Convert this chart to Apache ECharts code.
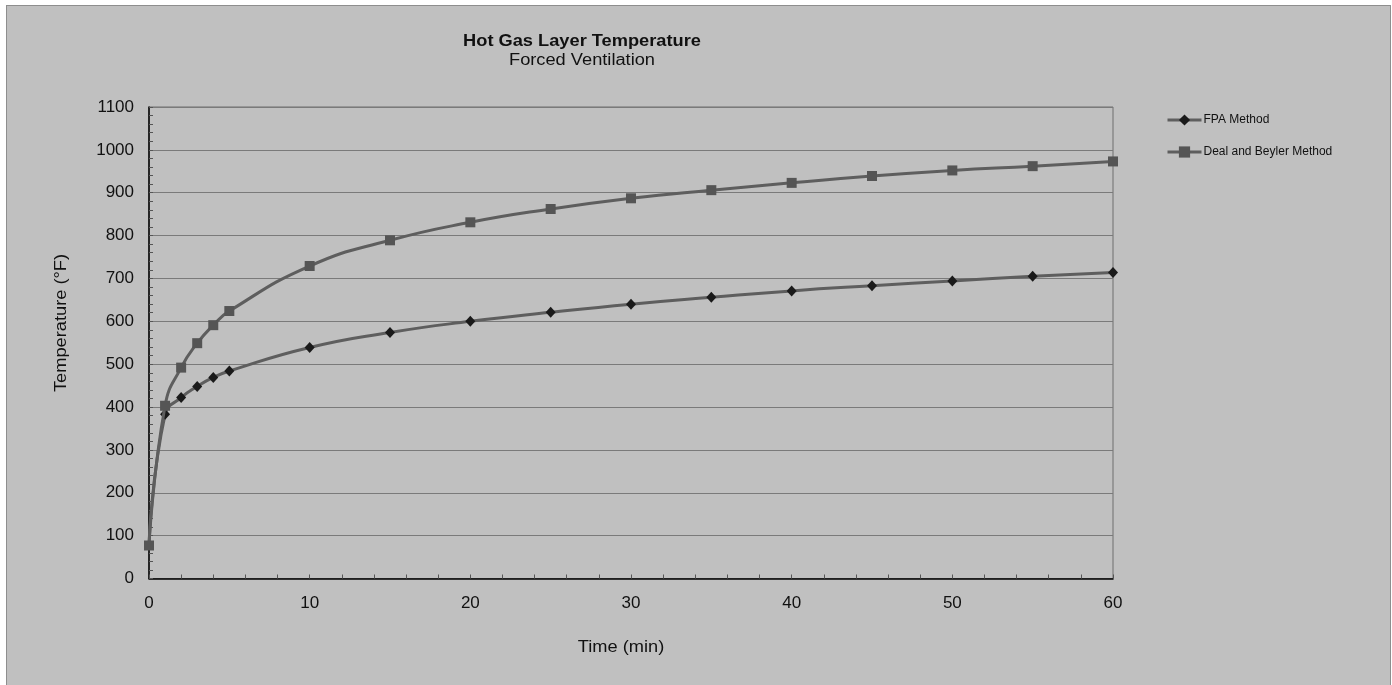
<!DOCTYPE html>
<html>
<head>
<meta charset="utf-8">
<title>Hot Gas Layer Temperature</title>
<script src="https://cdn.jsdelivr.net/npm/echarts@6/dist/echarts.min.js"></script>
<style>
  html, body { margin: 0; padding: 0; background: #ffffff; }
  #frame {
    position: absolute; left: 6px; top: 5px; width: 1385px; height: 690px;
    background: #c0c0c0; border: 1px solid #8e8e8e; box-sizing: border-box;
  }
  #chart { position: absolute; left: 0; top: 0; width: 1392px; height: 685px; }
</style>
</head>
<body>
<div id="frame"></div>
<div id="chart"></div>
<script>
// Time after ignition (minutes)
const timeMin = [0, 1, 2, 3, 4, 5, 10, 15, 20, 25, 30, 35, 40, 45, 50, 55, 60];
// Hot gas layer temperature (°F), FPA method
const fpaTemp = [77, 383, 422, 448, 469, 484, 539, 574, 600, 621, 640, 656, 671, 683, 694, 705, 714];
// Hot gas layer temperature (°F), Deal and Beyler method
const dealBeylerTemp = [77, 403, 492, 549, 591, 624, 729, 789, 831, 862, 887, 906, 923, 939, 952, 962, 973];

const seriesNames = ['FPA Method', 'Deal and Beyler Method'];
const titleText = 'Hot Gas Layer Temperature';
const subtitleText = 'Forced Ventilation';
const xAxisTitle = 'Time (min)';
const yAxisTitle = 'Temperature (°F)';

const pairs = (xs, ys) => xs.map((x, i) => [x, ys[i]]);
const font = 'Arial, "Liberation Sans", sans-serif';
// the chart lettering runs a little wider than plain Arial
const wide = 1.14;

const chart = echarts.init(document.getElementById('chart'), null, { renderer: 'canvas' });

chart.setOption({
  backgroundColor: 'transparent',
  animation: false,
  textStyle: { fontFamily: font },
  legend: {
    orient: 'vertical',
    left: 1166,
    top: 114,
    padding: 0,
    itemWidth: 34,
    itemHeight: 14,
    itemGap: 20,
    lineStyle: { width: 3 },
    textStyle: { fontSize: 12, color: '#111', fontFamily: font, padding: [0, 0, 0, -3] },
    data: seriesNames
  },
  grid: {
    left: 149, right: 279, top: 107, bottom: 106.5,
    show: true, borderColor: '#6e6e6e', borderWidth: 1, backgroundColor: 'transparent'
  },
  xAxis: {
    type: 'value',
    min: 0, max: 60, interval: 10,
    axisLine: { show: true, onZero: false, lineStyle: { color: '#000', width: 1.5 } },
    axisTick: { show: true, inside: true, length: 4, lineStyle: { color: '#555' } },
    minorTick: { show: true, splitNumber: 5, length: 4, lineStyle: { color: '#555' } },
    axisLabel: { fontSize: 17, color: '#111', margin: 16, fontFamily: font },
    splitLine: { show: false }
  },
  yAxis: {
    type: 'value',
    min: 0, max: 1100, interval: 100,
    axisLine: { show: true, onZero: false, lineStyle: { color: '#000', width: 1.5 } },
    axisTick: { show: true, inside: true, length: 4, lineStyle: { color: '#555' } },
    minorTick: { show: true, splitNumber: 5, length: 4, lineStyle: { color: '#555' } },
    axisLabel: { fontSize: 17, color: '#111', margin: 15, fontFamily: font, formatter: v => String(v) },
    splitLine: { show: true, lineStyle: { color: '#7a7a7a', width: 1 } }
  },
  graphic: [
    {
      type: 'text', x: 582, y: 41.5, scaleX: wide,
      style: { text: titleText, font: 'bold 16px ' + font, fill: '#111', align: 'center', verticalAlign: 'middle' }
    },
    {
      type: 'text', x: 582, y: 60.5, scaleX: wide,
      style: { text: subtitleText, font: '16px ' + font, fill: '#111', align: 'center', verticalAlign: 'middle' }
    },
    {
      type: 'text', x: 621, y: 647.5, scaleX: wide,
      style: { text: xAxisTitle, font: '16px ' + font, fill: '#111', align: 'center', verticalAlign: 'middle' }
    },
    {
      type: 'text', x: 62, y: 323, rotation: Math.PI / 2, scaleX: wide,
      style: { text: yAxisTitle, font: '16px ' + font, fill: '#111', align: 'center', verticalAlign: 'middle' }
    }
  ],
  series: [
    {
      name: seriesNames[0],
      type: 'line',
      data: pairs(timeMin, fpaTemp),
      smooth: 0.5,
      symbol: 'diamond',
      symbolSize: [10, 11],
      lineStyle: { color: '#5e5e5e', width: 3 },
      itemStyle: { color: '#1a1a1a', borderWidth: 0 },
      z: 3
    },
    {
      name: seriesNames[1],
      type: 'line',
      data: pairs(timeMin, dealBeylerTemp),
      smooth: 0.5,
      symbol: 'rect',
      symbolSize: 10,
      lineStyle: { color: '#5e5e5e', width: 3 },
      itemStyle: { color: '#555555', borderWidth: 0 },
      z: 4
    }
  ]
});
</script>
</body>
</html>
